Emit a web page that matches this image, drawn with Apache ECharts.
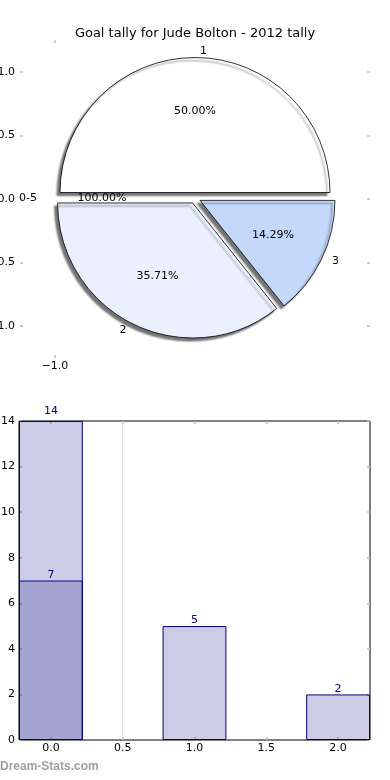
<!DOCTYPE html>
<html><head><meta charset="utf-8">
<script src="https://cdn.jsdelivr.net/npm/echarts@6/dist/echarts.min.js"></script>
<style>html,body{margin:0;padding:0;background:#fff}#c{width:390px;height:780px}</style>
</head><body><div id="c"></div>
<script>
const titleText = 'Goal tally for Jude Bolton - 2012 tally';
const pieNames = ['1', '2', '3'];
const pieValues = [7, 5, 2];
const pieColors = ['#ffffff', '#eaf0fd', '#c4d8fc'];
const totalNames = ['0-5'];
const totalValues = [14];
const pieYTicks = [-1, -0.5, 0, 0.5, 1];
const pieXTicks = [-1];
const barX = [0, 1, 2];
const barTotals = [14, 5, 2];
const barSubX = [0];
const barSub = [7];
const barXTicks = [0, 0.5, 1, 1.5, 2];
const barYTicks = [0, 2, 4, 6, 8, 10, 12, 14];
const barGuideX = [0.5];
const watermark = 'Dream-Stats.com';

const FONT = 'DejaVu Sans';
const TICK = { inside: true, length: 3, lineStyle: { color: '#bdbdbd', width: 1.5 } };
const fmtNum = v => (v < 0 ? '\u2212' : '') + Math.abs(v).toFixed(1);

const pieCenter = [195, 198];
const pieR = 135;
const OFF = 5.5;

const pieData = pieNames.map((n, i) => ({ name: n, value: pieValues[i], selected: true,
  itemStyle: { color: pieColors[i] } }));
const pieDataT = pieNames.map((n, i) => ({ name: n, value: pieValues[i], selected: true }));
const totalData = totalNames.map((n, i) => ({ name: n, value: totalValues[i] }));

const barLeft = 19, barRight = 20;
const xMin = -0.2222, xMax = 2.2222, barUnitW = 0.4444;
const barPx = (390 - barLeft - barRight) * barUnitW / (xMax - xMin);

const common = {
  type: 'pie', center: pieCenter, startAngle: 0, clockwise: false,
  animation: false, avoidLabelOverlap: false, silent: true,
  emphasis: { disabled: true }
};
const transparentItem = { color: 'rgba(0,0,0,0)', borderWidth: 0, shadowBlur: 0 };
const noLine = { show: false, onZero: false };

function axis(type, grid, pos, min, max, ticks, labels, extra) {
  return Object.assign({
    type: 'value', gridIndex: grid, position: pos, min: min, max: max,
    axisLine: noLine, splitLine: { show: false },
    axisTick: Object.assign({ customValues: ticks }, TICK),
    axisLabel: labels ? Object.assign({ customValues: ticks, color: '#000', fontSize: 11 }, labels) : { show: false }
  }, extra || {});
}

const chart = echarts.init(document.getElementById('c'), null, { renderer: 'canvas' });
chart.setOption({
  animation: false,
  textStyle: { fontFamily: FONT },
  title: { text: titleText, left: 'center', top: 22,
    textStyle: { fontSize: 13, fontWeight: 'normal', color: '#000', fontFamily: FONT } },
  grid: [
    { left: 20, right: 20, top: 40, height: 318, containLabel: false, outerBoundsMode: 'none' },
    { left: barLeft, right: barRight, top: 421, bottom: 40, containLabel: false, outerBoundsMode: 'none',
      show: true, borderColor: '#000', borderWidth: 1, backgroundColor: 'transparent' }
  ],
  xAxis: [
    axis('x', 0, 'bottom', -1.25, 1.25, pieXTicks, { formatter: fmtNum, margin: 3 }),
    axis('x', 0, 'top', -1.25, 1.25, pieXTicks, null),
    axis('x', 1, 'bottom', xMin, xMax, barXTicks, { formatter: fmtNum, margin: 3 }),
    axis('x', 1, 'top', xMin, xMax, barXTicks, null)
  ],
  yAxis: [
    axis('y', 0, 'left', -1.25, 1.25, pieYTicks, { formatter: fmtNum, margin: 5 }),
    axis('y', 0, 'right', -1.25, 1.25, pieYTicks, null),
    axis('y', 1, 'left', 0, 14, barYTicks, { margin: 4 }, { interval: 2 }),
    axis('y', 1, 'right', 0, 14, barYTicks, null, { interval: 2 })
  ],
  graphic: [
    { type: 'text', left: 0, top: 761, z: 100,
      style: { text: watermark, fill: '#a0a0a0', font: 'bold 12px "Liberation Sans"' } }
  ],
  series: [
    Object.assign({}, common, { radius: [0, 180], data: totalData, z: 1,
      itemStyle: transparentItem, labelLine: { show: false },
      label: { show: true, position: 'inside', color: '#000', fontSize: 11,
        formatter: p => p.percent.toFixed(2) + '%' } }),
    Object.assign({}, common, { radius: 150, data: totalData, z: 1,
      itemStyle: transparentItem, labelLine: { show: false, length: 3, length2: 0 },
      label: { show: true, position: 'outside', color: '#000', fontSize: 11, formatter: '{b}' } }),
    Object.assign({}, common, { radius: pieR, data: pieData, z: 2,
      selectedMode: 'multiple', selectedOffset: OFF,
      itemStyle: { borderColor: '#000', borderWidth: 0.8,
        shadowColor: 'rgba(0,0,0,0.55)', shadowBlur: 2, shadowOffsetX: -3, shadowOffsetY: 3 },
      label: { show: false }, labelLine: { show: false } }),
    Object.assign({}, common, { radius: [21, pieR], data: pieDataT, z: 3,
      selectedMode: 'multiple', selectedOffset: OFF,
      itemStyle: transparentItem, labelLine: { show: false },
      label: { show: true, position: 'inside', color: '#000', fontSize: 11,
        formatter: p => p.percent.toFixed(2) + '%' } }),
    Object.assign({}, common, { radius: pieR, data: pieDataT, z: 3,
      selectedMode: 'multiple', selectedOffset: OFF,
      itemStyle: transparentItem, labelLine: { show: false, length: 6, length2: 0 },
      label: { show: true, position: 'outside', color: '#000', fontSize: 11, formatter: '{b}' } }),
    { type: 'bar', xAxisIndex: 2, yAxisIndex: 2, barWidth: barPx, barGap: '-100%',
      data: barX.map((x, i) => ({ value: [x, barTotals[i]],
        label: { distance: barTotals[i] === Math.max(...barTotals) ? 4 : 0 } })),
      itemStyle: { color: 'rgba(0,0,128,0.2)', borderColor: '#000080', borderWidth: 1 },
      label: { show: true, position: 'top', color: '#000080', fontSize: 11,
        formatter: p => p.value[1] },
      markLine: { silent: true, symbol: 'none', label: { show: false },
        lineStyle: { type: 'dotted', color: '#c4c4c4', width: 1 },
        data: barGuideX.map(v => ({ xAxis: v })) },
      emphasis: { disabled: true } },
    { type: 'bar', xAxisIndex: 2, yAxisIndex: 2, barWidth: barPx, barGap: '-100%',
      data: barSubX.map((x, i) => [x, barSub[i]]),
      itemStyle: { color: 'rgba(0,0,128,0.2)', borderColor: '#000080', borderWidth: 1 },
      label: { show: true, position: 'top', color: '#000080', fontSize: 11, distance: 0,
        formatter: p => p.value[1] },
      emphasis: { disabled: true } }
  ]
});
</script></body></html>
